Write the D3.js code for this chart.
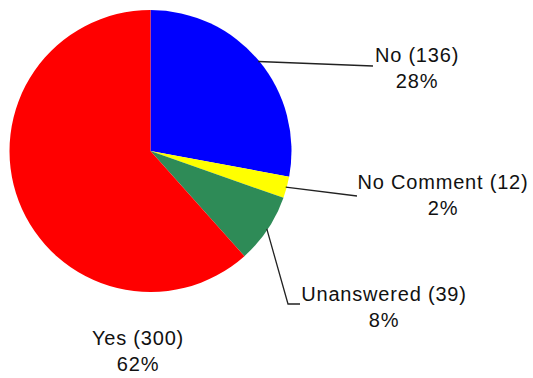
<!DOCTYPE html>
<html>
<head>
<meta charset="utf-8">
<script src="https://cdn.jsdelivr.net/npm/d3@7"></script>
<style>
  html, body { margin: 0; padding: 0; background: #fff; }
  svg { display: block; }
  text { font-family: "Liberation Sans", Arial, sans-serif; font-size: 20px; fill: #111; letter-spacing: 0.8px; }
</style>
</head>
<body>
<svg id="chart" width="533" height="378"></svg>
<script>
// ---- data ----
const categories = ["No", "No Comment", "Unanswered", "Yes"];
const values = [136, 12, 39, 300];
const percentLabels = ["28%", "2%", "8%", "62%"];

// ---- layout (not data) ----
const colors = ["#0000FF", "#FFFF00", "#2E8B57", "#FF0000"];
const cx = 150.5, cy = 151, radius = 141;
// label text anchor (center x, first baseline y) and leader line elbow points
const labelLayout = [
  { x: 417, y: 61.5, line: [[373, 66]] },
  { x: 443, y: 189, line: [[357, 196]] },
  { x: 384, y: 300.5, line: [[288, 304], [300, 304]] },
  { x: 138, y: 344.5, line: null }
];
const lineGap = 26;

const svg = d3.select("#chart");
const g = svg.append("g").attr("transform", `translate(${cx},${cy})`);

const pie = d3.pie().sort(null).value(d => d)(values);
const arc = d3.arc().innerRadius(0).outerRadius(radius);

g.selectAll("path.slice")
  .data(pie)
  .join("path")
  .attr("class", "slice")
  .attr("d", arc)
  .attr("fill", (d, i) => colors[i]);

// leader lines from slice mid-angle on rim
const edgeArc = d3.arc().innerRadius(radius - 1).outerRadius(radius - 1);
pie.forEach((d, i) => {
  const lay = labelLayout[i];
  if (!lay.line) return;
  const mid = (d.startAngle + d.endAngle) / 2;
  const p0 = [cx + Math.sin(mid) * (radius - 1), cy - Math.cos(mid) * (radius - 1)];
  const pts = [p0].concat(lay.line);
  svg.append("path")
    .attr("d", d3.line()(pts))
    .attr("fill", "none")
    .attr("stroke", "#222")
    .attr("stroke-width", 1.3);
});

// labels
categories.forEach((c, i) => {
  const lay = labelLayout[i];
  const t = svg.append("text")
    .attr("text-anchor", "middle");
  t.append("tspan").attr("x", lay.x).attr("y", lay.y).text(`${c} (${values[i]})`);
  t.append("tspan").attr("x", lay.x).attr("y", lay.y + lineGap).text(percentLabels[i]);
});
</script>
</body>
</html>
